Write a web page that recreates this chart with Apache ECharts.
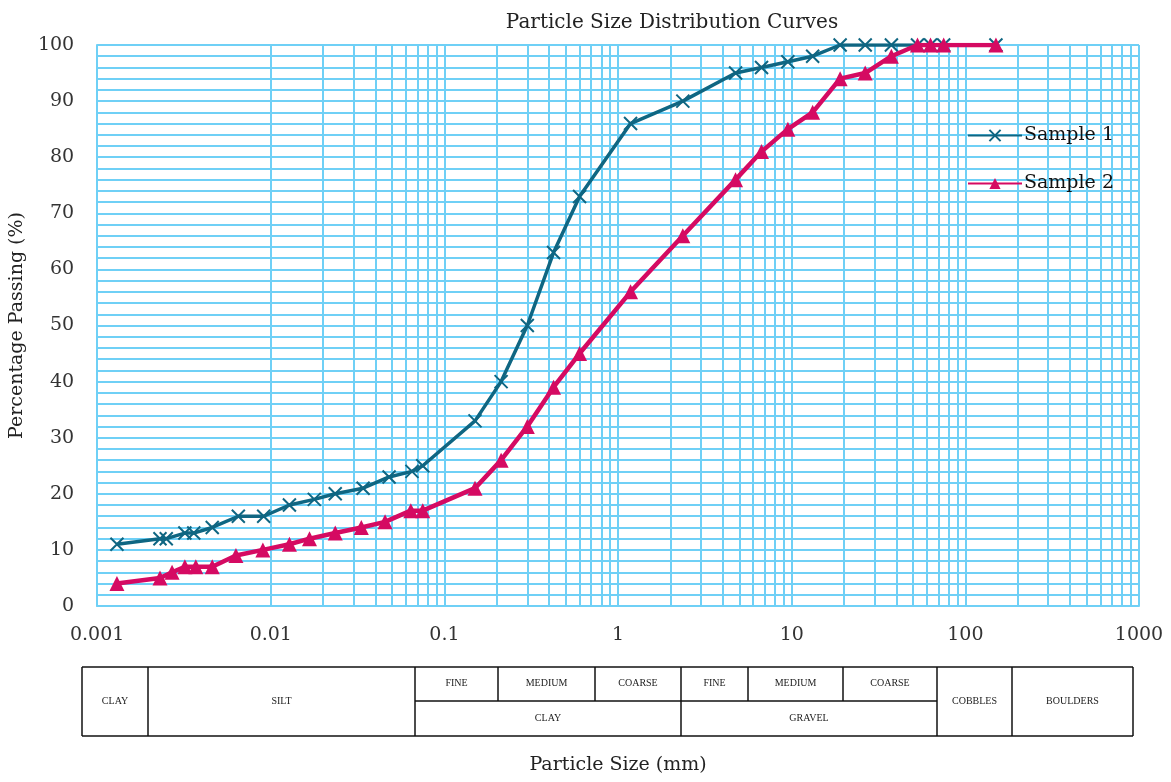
<!DOCTYPE html>
<html>
<head>
<meta charset="utf-8">
<script src="https://cdn.jsdelivr.net/npm/echarts@6/dist/echarts.min.js"></script>
<style>
  html, body { margin: 0; padding: 0; background: #fff; }
  #chart { width: 1171px; height: 782px; }
</style>
</head>
<body>
<div id="chart"></div>
<script>
// particle sizes (mm) and percentage passing
const sizes1 = [0.0013, 0.0023, 0.0025, 0.0032, 0.0036, 0.0046, 0.0065, 0.0091, 0.0128, 0.0178, 0.0235, 0.034, 0.048, 0.065, 0.075,
  0.15, 0.212, 0.3, 0.425, 0.6, 1.18, 2.36, 4.75, 6.7, 9.5, 13.2, 19, 26.5, 37.5, 53, 63, 75, 150];
const passing1 = [11, 12, 12, 13, 13, 14, 16, 16, 18, 19, 20, 21, 23, 24, 25,
  33, 40, 50, 63, 73, 86, 90, 95, 96, 97, 98, 100, 100, 100, 100, 100, 100, 100];

const sizes2 = [0.0013, 0.0023, 0.0027, 0.0032, 0.0037, 0.0046, 0.0063, 0.009, 0.0128, 0.0167, 0.0235, 0.0332, 0.0455, 0.064, 0.075,
  0.15, 0.212, 0.3, 0.425, 0.6, 1.18, 2.36, 4.75, 6.7, 9.5, 13.2, 19, 26.5, 37.5, 53, 63, 75, 150];
const passing2 = [4, 5, 6, 7, 7, 7, 9, 10, 11, 12, 13, 14, 15, 17, 17,
  21, 26, 32, 39, 45, 56, 66, 76, 81, 85, 88, 94, 95, 98, 100, 100, 100, 100];

const seriesNames = ["Sample 1", "Sample 2"];

// soil classification band under the chart
const topRow = ["FINE", "MEDIUM", "COARSE", "FINE", "MEDIUM", "COARSE"];
const bottomRow = ["CLAY", "GRAVEL"];
const sideCells = ["CLAY", "SILT", "COBBLES", "BOULDERS"];

// minor log grid lines: 2..9 in every decade
const decades = [0.001, 0.01, 0.1, 1, 10, 100];
const minorX = [];
decades.forEach(d => {
  for (let k = 2; k <= 9; k++) minorX.push(+(k * d).toPrecision(3));
});

const gridColor = "#6fd0f6";
const serif = "DejaVu Serif";

// table geometry
const T = { top: 667, mid: 701, bottom: 736 };
const cols = [82, 148, 415, 498, 595, 681, 748, 843, 937, 1012, 1133];

function tableGraphics() {
  const g = [];
  const ls = { stroke: "#111", lineWidth: 1.5 };
  const line = (x1, y1, x2, y2) => g.push({ type: "line", shape: { x1, y1, x2, y2 }, style: ls, silent: true });
  const text = (x, y, t) => g.push({
    type: "text", x, y, silent: true,
    style: { text: t, fontFamily: "Liberation Serif", fontSize: 10, fill: "#222", align: "center", verticalAlign: "middle" }
  });

  line(cols[0], T.top, cols[10], T.top);
  line(cols[0], T.bottom, cols[10], T.bottom);
  line(cols[2], T.mid, cols[8], T.mid);
  [0, 1, 2, 5, 8, 9, 10].forEach(i => line(cols[i], T.top, cols[i], T.bottom));
  [3, 4, 6, 7].forEach(i => line(cols[i], T.top, cols[i], T.mid));

  const midY = (T.top + T.bottom) / 2;
  const topY = (T.top + T.mid) / 2 - 1;
  const botY = (T.mid + T.bottom) / 2;
  text((cols[0] + cols[1]) / 2, midY, sideCells[0]);
  text((cols[1] + cols[2]) / 2, midY, sideCells[1]);
  text((cols[8] + cols[9]) / 2, midY, sideCells[2]);
  text((cols[9] + cols[10]) / 2, midY, sideCells[3]);
  topRow.forEach((t, i) => text((cols[i + 2] + cols[i + 3]) / 2, topY, t));
  text((cols[2] + cols[5]) / 2, botY, bottomRow[0]);
  text((cols[5] + cols[8]) / 2, botY, bottomRow[1]);
  return g;
}

const chart = echarts.init(document.getElementById("chart"));

const option = {
  animation: false,
  title: {
    text: "Particle Size Distribution Curves",
    left: 667,
    top: 8,
    textAlign: "center",
    textStyle: { fontFamily: serif, fontSize: 20, fontWeight: "normal", color: "#222" }
  },
  legend: {
    data: seriesNames,
    orient: "vertical",
    left: 962,
    top: 121,
    z: 20,
    itemWidth: 54,
    itemHeight: 14,
    itemGap: 29,
    textStyle: { fontFamily: serif, fontSize: 19, color: "#111", padding: [0, 0, 0, -3] }
  },
  grid: { left: 94, right: 32, top: 45, bottom: 176 },
  xAxis: {
    type: "log",
    logBase: 10,
    min: 0.001,
    max: 1000,
    name: "Particle Size (mm)",
    nameLocation: "middle",
    nameGap: 150,
    nameTextStyle: { fontFamily: serif, fontSize: 19, color: "#222" },
    axisLine: { lineStyle: { color: gridColor, width: 2 } },
    axisTick: { show: false },
    axisLabel: {
      fontFamily: serif, fontSize: 19, color: "#333", margin: 20,
      formatter: v => String(+(+v).toPrecision(3))
    },
    splitLine: { show: true, lineStyle: { color: gridColor, width: 2 } }
  },
  yAxis: {
    type: "value",
    min: 0,
    max: 100,
    interval: 10,
    name: "Percentage Passing (%)",
    nameLocation: "middle",
    nameRotate: 90,
    nameGap: 62,
    nameTextStyle: { fontFamily: serif, fontSize: 19, color: "#222" },
    axisLine: { show: true, lineStyle: { color: gridColor, width: 2 } },
    axisTick: { show: false },
    axisLabel: { fontFamily: serif, fontSize: 19, color: "#333", margin: 23 },
    splitLine: { show: true, lineStyle: { color: gridColor, width: 2 } },
    minorTick: { show: false, splitNumber: 5 },
    minorSplitLine: { show: true, lineStyle: { color: gridColor, width: 2 } }
  },
  graphic: tableGraphics(),
  series: [
    {
      name: "grid",
      type: "line",
      data: [],
      z: 1,
      markLine: {
        z: 1,
        silent: true,
        symbol: ["none", "none"],
        label: { show: false },
        lineStyle: { color: gridColor, width: 2, type: "solid" },
        data: minorX.map(v => ({ xAxis: v }))
      }
    },
    {
      name: seriesNames[0],
      type: "line",
      z: 3,
      data: sizes1.map((s, i) => [s, passing1[i]]),
      color: "#0f6682",
      symbol: "path://M0,0L10,10M10,0L0,10",
      symbolSize: 13,
      lineStyle: { width: 3.5, color: "#0f6682" },
      itemStyle: { color: "none", borderColor: "#0f6682", borderWidth: 2 }
    },
    {
      name: seriesNames[1],
      type: "line",
      z: 4,
      data: sizes2.map((s, i) => [s, passing2[i]]),
      color: "#d50a62",
      symbol: "triangle",
      symbolSize: 15,
      lineStyle: { width: 4.5, color: "#d50a62" },
      itemStyle: { color: "#d50a62" }
    }
  ]
};

chart.setOption(option);
</script>
</body>
</html>
